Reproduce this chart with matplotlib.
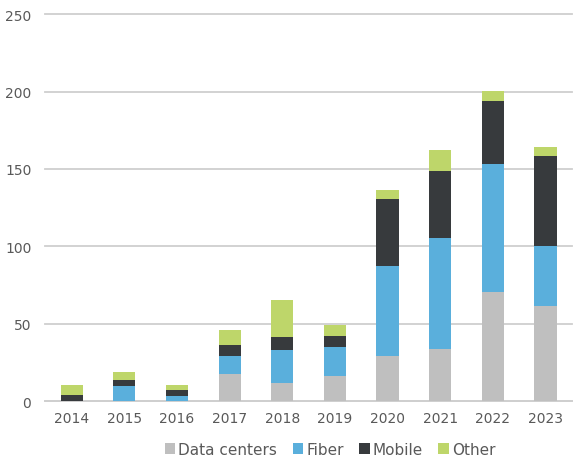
import numpy as np
import pandas as pd
from matplotlib import pyplot as plt


years = ['2014', '2015', '2016', '2017', '2018', '2019', '2020', '2021', '2022', '2023']
data_centers = [0, 0, 0, 17.7, 11.6, 16.4, 29.0, 33.4, 70.2, 61.4]
fiber = [0, 10.0, 3.4, 11.3, 21.4, 18.6, 58.0, 72.0, 83.3, 39.0]
mobile = [4.0, 3.4, 3.7, 7.0, 8.6, 7.2, 43.3, 43.0, 40.7, 58.2]
other = [6.5, 5.4, 3.4, 9.6, 24.0, 7.1, 6.0, 13.7, 6.0, 5.4]

series_names = ['Data centers', 'Fiber', 'Mobile', 'Other']
series_colors = ['#bfbfbf', '#5aafdc', '#373a3d', '#bed66a']


def plot_stack(df: pd.DataFrame, name_output: str):
    fig = plt.figure(figsize=(5.8, 4.6), dpi=100)
    ax = fig.add_axes([0.078, 0.126, 0.908, 0.841])

    x = np.arange(len(df.index))
    bottom = np.zeros(len(df.index))
    for column, color in zip(series_names, series_colors):
        ax.bar(x, df[column], 0.42, bottom=bottom, color=color, label=column, zorder=3)
        bottom += df[column].values

    ax.set_xlim(-0.5, len(x) - 0.5)
    ax.set_ylim(0, 250)
    ax.set_yticks(range(0, 251, 50))
    ax.set_xticks(x)
    ax.set_xticklabels(df.index)

    ax.grid(axis='y', color='#cfcfcf', linewidth=1.3, zorder=0)
    for line in ax.get_ygridlines():
        line.set_clip_on(False)
    for side in ['top', 'right', 'left']:
        ax.spines[side].set_visible(False)
    ax.spines['bottom'].set_color('#cfcfcf')
    ax.spines['bottom'].set_linewidth(1.3)
    ax.tick_params(axis='both', length=0, labelsize=10, labelcolor='#595959')
    ax.tick_params(axis='x', pad=7)
    ax.tick_params(axis='y', pad=10)

    ax.legend(loc='upper center', bbox_to_anchor=(0.541, -0.09), ncol=4, frameon=False,
              fontsize=11, labelcolor='#595959', handlelength=0.7, handleheight=0.7,
              handletextpad=0.2, columnspacing=1.0, borderaxespad=0)

    fig.savefig(name_output)
    plt.close(fig)


df = pd.DataFrame({'Data centers': data_centers, 'Fiber': fiber, 'Mobile': mobile, 'Other': other},
                  index=years)
plot_stack(df, 'out.png')
